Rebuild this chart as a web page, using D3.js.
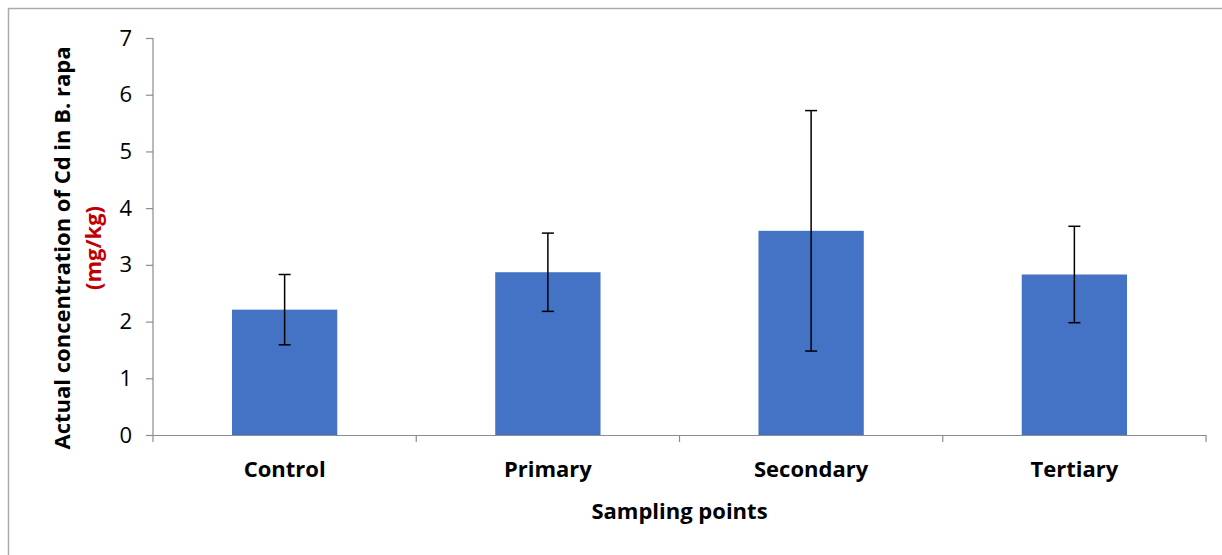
<!DOCTYPE html>
<html><head><meta charset="utf-8">
<script src="https://cdn.jsdelivr.net/npm/d3@7"></script>
<style>body{margin:0;background:#fff}svg{display:block}text{font-family:"Open Sans",sans-serif}</style>
</head><body><svg id="c" width="1222" height="555"></svg>
<script>
const categories = ["Control","Primary","Secondary","Tertiary"];
const means = [2.21, 2.87, 3.60, 2.83];
const errors = [0.62, 0.69, 2.12, 0.85];
const yTicks = [0,1,2,3,4,5,6,7];

const svg = d3.select("#c");
// frame
svg.append("path").attr("d","M8.5,555 V8.5 H1222").attr("fill","none").attr("stroke","#ababab").attr("stroke-width",1.5);

const L=153, R=1206, T=38, B=435;
const x = d3.scaleBand().domain(categories).range([L,R]).paddingInner(0.6).paddingOuter(0.3);
const y = d3.scaleLinear().domain([0,7]).range([B,T]);

// y axis
const ya = svg.append("g").attr("transform",`translate(${L},0)`)
  .call(d3.axisLeft(y).tickValues(yTicks).tickSize(7).tickPadding(14).tickFormat(d3.format("d")));
ya.select(".domain").attr("stroke","#8c8c8c").attr("stroke-width",1.2).attr("d",`M-7,${T}.5H0V${B}`);
ya.selectAll(".tick line").attr("stroke","#8c8c8c").attr("stroke-width",1.2);
ya.selectAll(".tick text").attr("font-size",22).attr("fill","#000").attr("font-family","'Open Sans',sans-serif");

// bars
svg.append("g").selectAll("rect").data(categories).join("rect")
  .attr("x",d=>x(d)).attr("width",x.bandwidth())
  .attr("y",(d,i)=>y(means[i])).attr("height",(d,i)=>B-y(means[i]))
  .attr("fill","#4472c4");

// x axis
const xa = svg.append("g").attr("transform",`translate(0,${B})`);
xa.append("line").attr("x1",L).attr("x2",R).attr("y1",0.5).attr("y2",0.5).attr("stroke","#8c8c8c").attr("stroke-width",1.2);
const bounds = [L, ...categories.map(c=>x(c)+x.bandwidth()/2+x.step()/2)];
xa.selectAll("line.t").data(bounds).join("line").attr("class","t")
  .attr("x1",d=>d).attr("x2",d=>d).attr("y1",0).attr("y2",7).attr("stroke","#8c8c8c").attr("stroke-width",1.2);
xa.selectAll("text").data(categories).join("text")
  .attr("x",d=>x(d)+x.bandwidth()/2).attr("y",42).attr("text-anchor","middle")
  .attr("font-size",22).attr("font-weight","bold").attr("fill","#000").text(d=>d);

// error bars
const eb = svg.append("g").attr("stroke","#000").attr("stroke-width",1.5);
categories.forEach((c,i)=>{
  const cx = x(c)+x.bandwidth()/2;
  const y1 = y(means[i]+errors[i]), y2 = y(means[i]-errors[i]);
  eb.append("line").attr("x1",cx).attr("x2",cx).attr("y1",y1).attr("y2",y2);
  eb.append("line").attr("x1",cx-6).attr("x2",cx+6).attr("y1",y1).attr("y2",y1);
  eb.append("line").attr("x1",cx-6).attr("x2",cx+6).attr("y1",y2).attr("y2",y2);
});

// axis titles
svg.append("text").attr("x",(L+R)/2).attr("y",519).attr("text-anchor","middle")
  .attr("font-size",22).attr("font-weight","bold").attr("fill","#000").text("Sampling points");
svg.append("text").attr("transform","translate(70,248) rotate(-90)").attr("text-anchor","middle")
  .attr("font-size",22).attr("font-weight","bold").attr("fill","#000").text("Actual concentration of Cd in B. rapa");
svg.append("text").attr("transform","translate(101,248) rotate(-90)").attr("text-anchor","middle")
  .attr("font-size",22).attr("font-weight","bold").attr("fill","#c00000").text("(mg/kg)");
</script></body></html>
